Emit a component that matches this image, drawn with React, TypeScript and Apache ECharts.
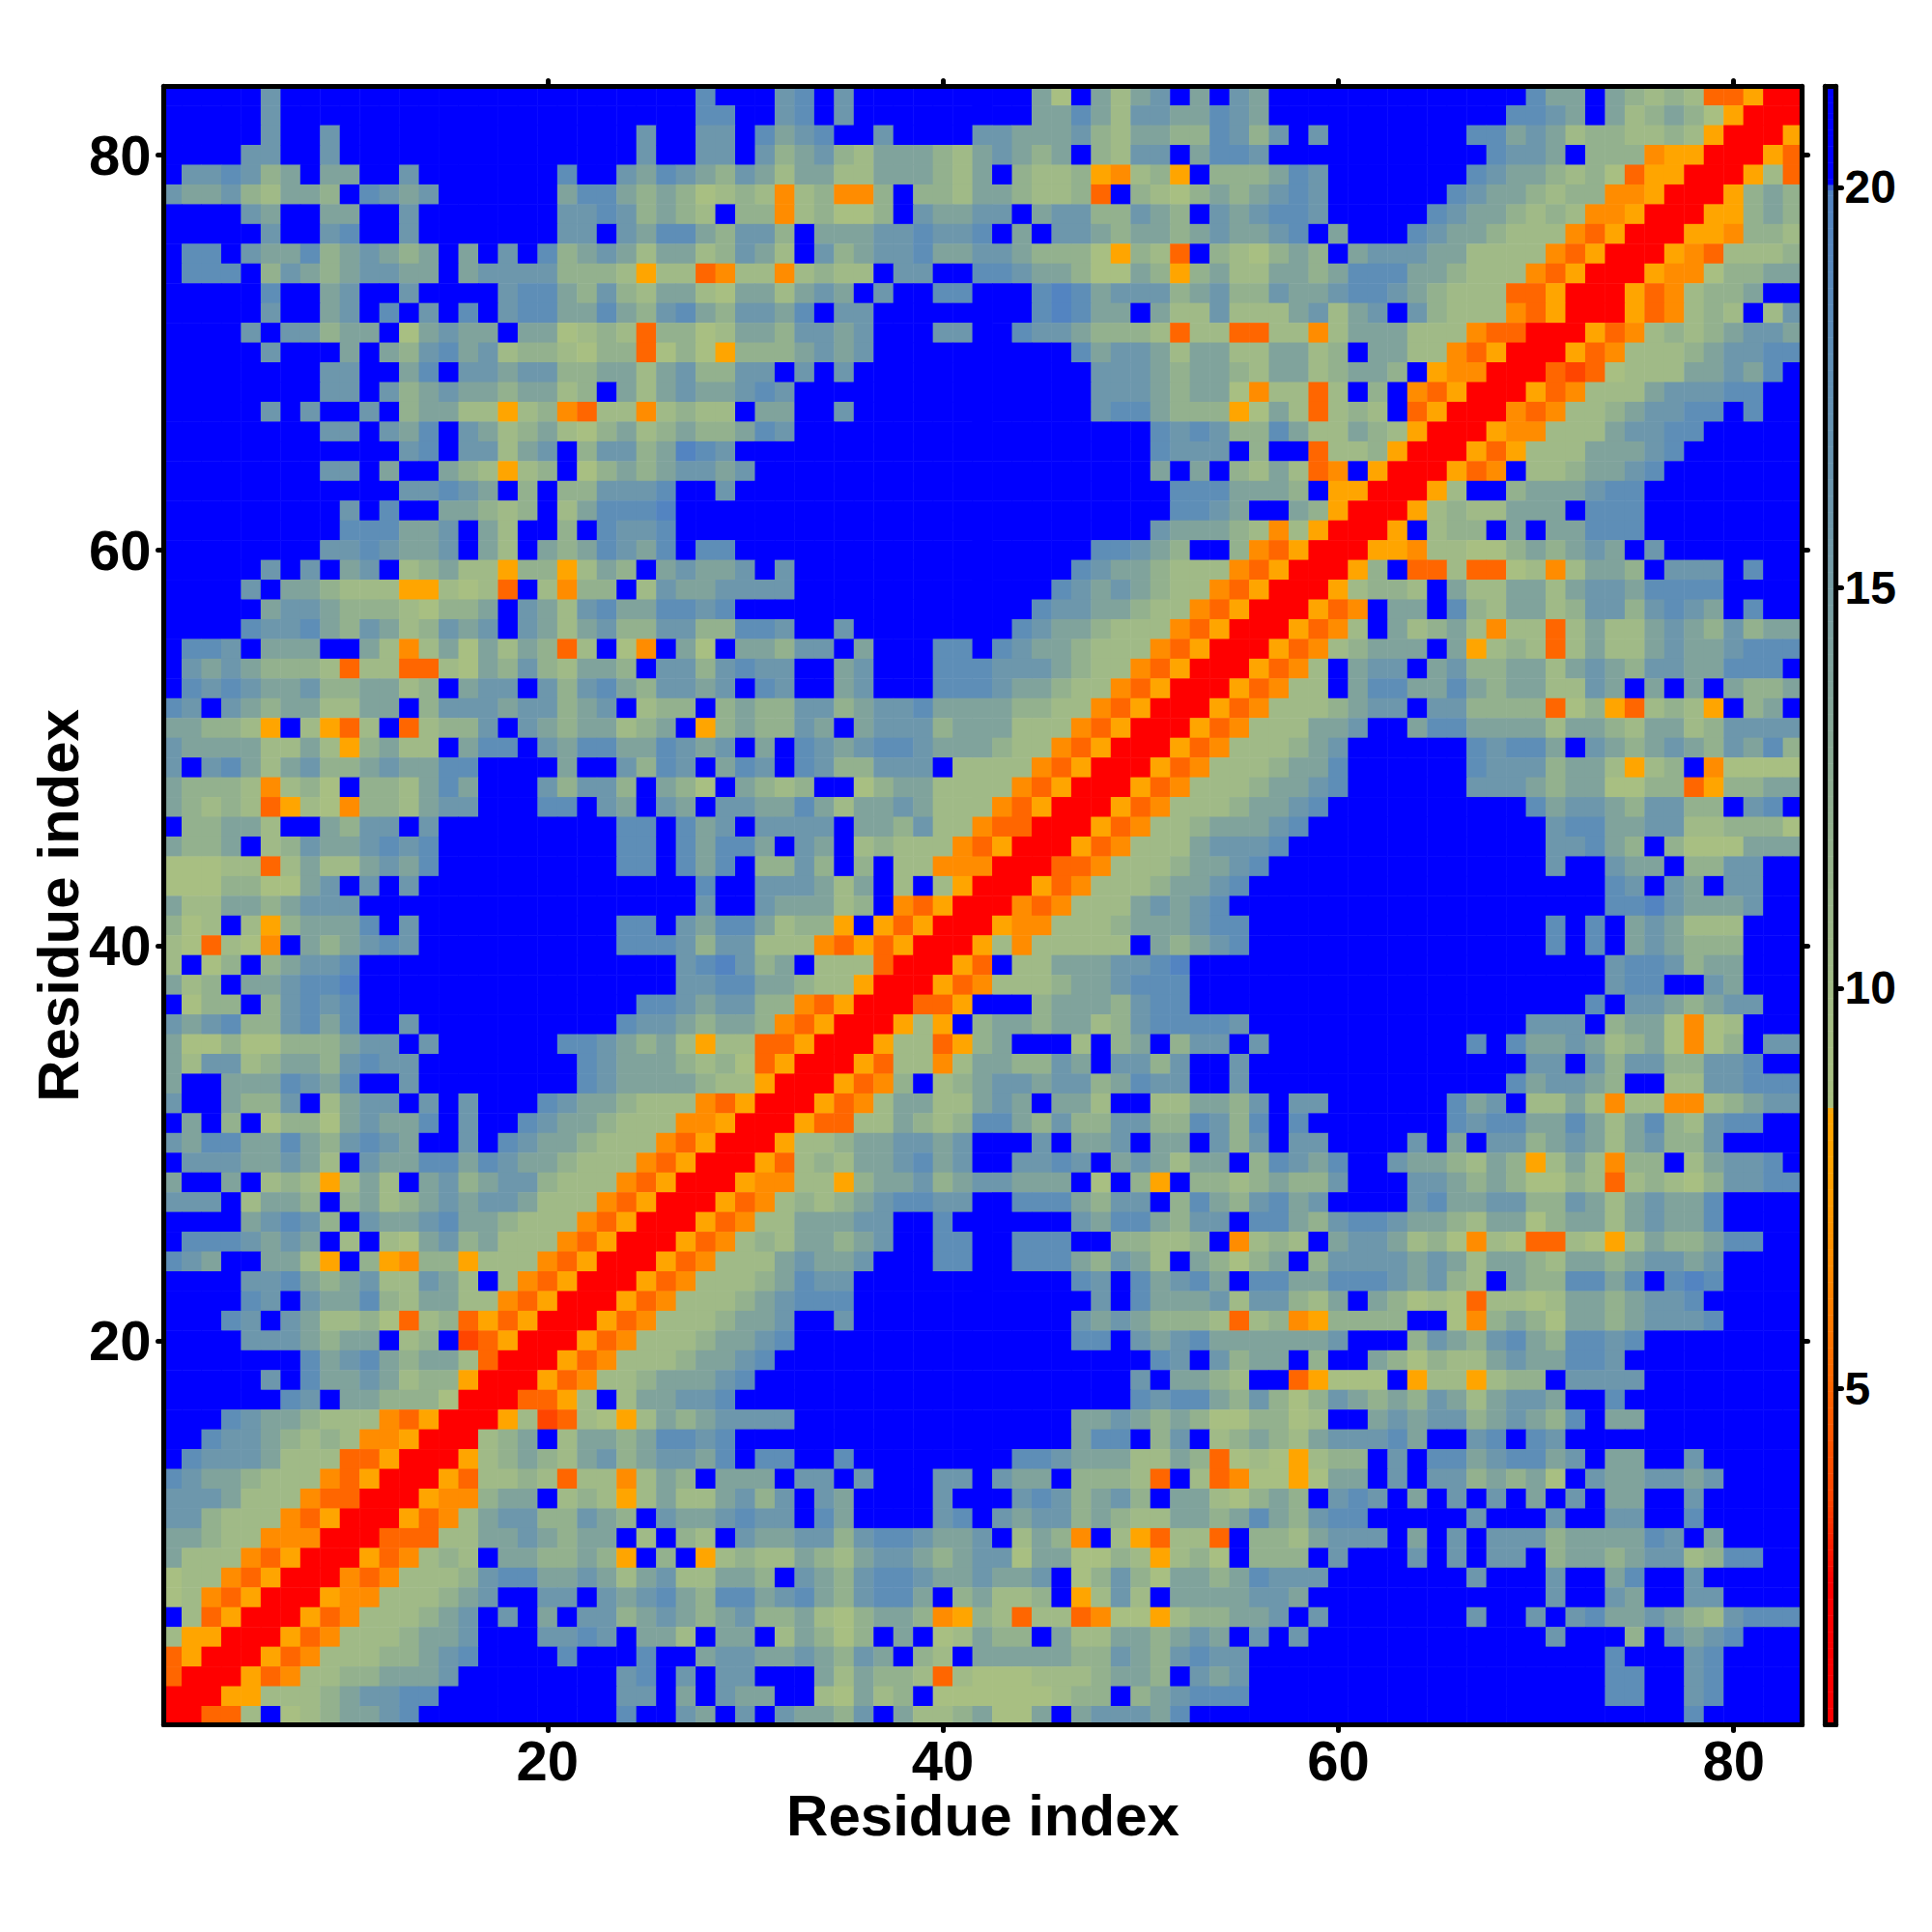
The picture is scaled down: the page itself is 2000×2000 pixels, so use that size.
import React, { useEffect, useRef } from "react";
import * as echarts from "echarts";

// Residue-by-residue matrix, top row first (y = 83 down to 1). Each token is [count]level.
const rowsTopDown: string[] = [
  "5. e 21. | f 3. e f . e 9. d a . d b d e . d . e | d 13. f d d . d c b c b O O Y R R",
  "5. e 21. | f f 2. e f . e 9. d d f d b e e d d f e | d 12. f f e d . d b c d c a Y R R R",
  "5. e 2. e 15. e 2. | e e . f d e f 2. e 4. e e d d d e c b d d c c f e | c e . e 7. f f d e d b c c b b c b Y R R R Y",
  "4. e e 2. e 15. e 2. | e e . e c d e c b d d d c b d e d c d . c b e e . d f f | e 11. f e e d . c c c M Y Y R R R Y O",
  ". e e f e c d . d d 2. e 7. f 2. e d f e | d c e d b d d b b d d d c b d . c b b c Y M b c Y . c c | c d f e 7. f e d d c b c a O Y Y R R R Y b O",
  "e d d e c b d d c . f e d e 6. d f f d c d c | a b c b M b c M M c . c c b d d c b b c O . c b a c d c | d e f e 6. f e d d c b c c M M Y R R R Y c d c",
  "4. e d 2. d d 2. e 7. e e f e c d c | b . c c M b c a a c . e d d e e . d e e c c e d c . e d | e f f e 5. f e d d c b c b M M Y R R R Y Y c d c",
  "5. e 2. e f 2. e 7. e e . e d f f | d c e e c . d d d e e f e e f . d . e e d c d d c d e d | d e f . d 3. f e d d c b b b M O Y R R R Y Y M c c b",
  ". f f . e d d f c d e d c d . d . e . f c d e d b d d | b c e d b . e c d e e f d d e e d c c c a Y c b O . c b | a c d c . d e e e d d b b b b M O Y R R R Y M O b b b c",
  ". f f f . c e d c d e e d d . d e e e e c c c b Y b b | O M b b M b c b b . e e 2. f f e d d c a a d c Y c d b | b d d c d f f f d d c b b b M O Y R R R Y M M a c c d d",
  "5. f 2. d e 2. e 4. e f f d c e c b d d | b a d d b d e d . e 2. f f 3. f g f d e e e c d e c | c e d d e f f e d c b b b O O Y R R R Y O M b c c d 2.",
  "5. e 2. d e . f . e . f . e f f d d f d c e f | d c e e d f . e e 8. f g f d d . d b b e b b | b d e b d e . e c b b b M O Y R R R Y O M b c b . b e d",
  "4. e . e e c d d . a d e d d . d d a b c b O c c | a b d d c e e d e 3. e e 2. f e e d c c c b O b b O | O b b M b d d d b b b M O O R R R Y O M b c b c d e e d",
  "5. e 3. d . d c e f d e b c c b a c c O a c | a Y c c c d e d e 10. f d e e d b d d b | b d d b c . d d b b M O Y R R R Y O M b b b c d e e f f",
  "8. e e 2. d f . e e d e e c c d d b d e | c c e e . e . e 12. e e e d c d d c | b d d b c d d c . Y M M R R R O H O a b b b d d e d f .",
  "8. e e . e c d e d d c d d b c . d b d e | d d e f e 15. e e e d c d d a | M b b O b . c . M O Y R R R Y O M b b b d e e e f f 2.",
  "5. e . e 2. e . c d d b b Y b c M O b b M b c | b b . d d 2. e 12. e f f d c c c Y | a d b O b c b . O Y R R R M O M b b c d e e f f . f 2.",
  "8. e e . e d f . e d b c d b a c d b c d | c c d f e 18. f e f e c | c f d b b d c b Y R R R Y M M b b b d e e f f 5.",
  "12. e f . e e b d e . c e e c d g | f e 21. f e e e . | c 2. O b b c Y R R R Y O Y b b b d d d e f 6.",
  "8. e e . d 2. d c b Y b c . a c d c d e | e d e 20. d . d . c | b d b O M . Y R R R Y O M . b b c d d e f 7.",
  "12. e e f e d . c . c c e e e f . | . e 22. f f f d | d d c . Y Y R R R Y b 2. c d d d e f f 8.",
  "9. e . f 2. d d c b c . b d f f f g . | 24. f f e d | 2. d c Y R R R Y b c b b d d d . f f f 8.",
  "9. f f f d d e . d b 2. c . f e e f . | 23. e d d d c | b M b Y R R R Y . b c c . d . d d f f f 8.",
  "8. e e f e d d e . d b . d c d f e d f . | f f 18. f f e d c 2. c | M O Y R R R Y Y M b b a a c d c d e d . e 7.",
  "5. e . e . d e . b c d b b Y c c Y b d c . d e | d d e . e 14. f e d d c b b b M | O Y R R R Y c . O O b O O a b M b d d c . e e e . f 2.",
  "4. e . d d c b b b Y Y b a b O . b M c c . b e d | d e e e e 13. f e d e d c b b M O | Y R R R Y b c c b . d b b d d b d e e d f f f f 4.",
  "5. d e e d c c c b a c c d . e d b e f d d f f | e f 15. f e e d d c b b M O Y | R R R Y O M . d d . f c b d d b c e e c e f e d . f 2.",
  "4. f e e f d c e d b c e d e . e d b d e c c e e | c c f f e 2. e 8. f e d d c b b b M O Y R | R R Y O M b . d b c d b M b b O b d b b d e d c e c d d",
  ". f f e . d d d 2. d b M b d a d b d c O b . a M . d | a . d d c e e . d 3. f f . f e d d c b b b M O Y R R | R Y O M b c d d d . d Y b c b O b d b b d e d d e f f f",
  ". e d e d c c c b O b b O O b a d c e c b d d c . e e | c e f e e 2. d e 3. f f f e e e d c b b M O Y R R R | Y O M b . d e e . d e c c d d b d e d c e e d d f f f .",
  ". f e f e d d e c c d d b c . d e e . e c e f d c e e | d e . f e 2. d e 3. f f f e d d c b b M O Y R R R Y | O M b b . d f f d d f d c d d b b e d . d . d . d c c d",
  "f e . e d c d d b b d d . c e e e d e e c d e . b c c | . c d c c e e c d e e f d d d d c c b b M O Y R R R Y O | M b b b c d e e . e e c c c c O a c Y O b c b Y . c d .",
  "d d c c b Y . b Y O b . O b c c e . e d c d d b c d . | Y c d c c e d . d e e e c d d d b b b M O Y R R R Y O M | b b b d d e 2. d f f d d d d b d d c b d d b c e e e e",
  "e d d d d b b d b Y c d b b . d f f . e d f f d d f e | d e . d . f e d e f f e d d d c b b M O Y R R R Y O M b | b b c d e 6. f e f f d . e d c d e d c e d f c",
  "e . e f d b d e c c d e d d f f 4. d 2. e c f e | . d f e . f e c c e e e . b b b b M O Y R R R Y O M b b | b c d d f 6. f e e e c d d b Y b c . M a a a a",
  "d c c c b M b c a . c c b d f d 3. e c e e c . d c | a . d c b c 2. a c d d b b b b M O Y R R R Y O M b b b | c d d e f 6. e e e d c d d a a c c O Y c c d d",
  "d c b c b O Y b a M c c b d e e 3. f f . e d . e d | . e e d d f d b d d e d b b b M O Y R R R Y O M b b b c | d d e f 10. f d e e d c e e c c . e f .",
  ". c c d d b 2. d c e e . e 9. f f . f | d e . e e e e . d d c e b b M O O R R R Y O M b b c d d | d e f 12. e f f d d e e b b c c c a",
  "d c c d . b c e d d e f e f 9. f f . f | d f f d . e d . b c b b b M O Y R R R Y O M b b b d e e | e f 13. e e f d c . c a a a d d d",
  "a a a b b O b d b b d e d f 9. f f . f | d f . c c e c . c . b b M M M R R R O O M b b b c d d e | f 14. e 2. e d d . c c e e 2.",
  "a a a c c a a d e . e . e 14. | f 2. e e e d b d . b . b Y R R R Y O M b b b c d d e f | 18. f e . e d . e e 2.",
  "d b b d d c d e e e 17. | e 2. e d d d b c . M O Y R R R M O M b b b d e d e f . | 18. f f g e d d d e 2.",
  "c a b . b Y c d d d f . e 10. f f . e | d f f d b c c Y . Y O Y R R R Y M M b b b c d d d e f f | 15. f . f . d e d b b b 3.",
  "b a O b a M . d c d e f e 10. f f f e | c e e b b b M O Y O Y R R R Y b M b b b b b . d c d e f | 15. f . f . d e d c c c 3.",
  "b . a c . c d e e f 16. e | f g e c d . b b b O R R R Y O . b b d d d e e f g 3. | 18. e f f e c d d 3.",
  "d b c . d d e f f g 16. e | e f f d d c b b Y R R R Y O M b b b c d d e f f f 3. | 18. e f f 2. e d 3.",
  ". a c c . c e f e f 14. f f e | d e e c c M O Y R R R O O Y 3. c d d d c e f f 3. | 17. f . e e d c d e e 2.",
  "e d e f c c e f d f 2. e 10. f e e d | c d d c M O Y R R R Y b Y . c d d c d d b c e f f f f e | 14. e e e . c d d a M a b 3.",
  "d a a c a a c c c d e e . e 6. f f e d c d b | Y b b O O Y R R R Y b b O Y c d 3. b . c d . c e e . | e 10. f . f d d e d b c d a M a c . e e",
  "d b e e b c d d c e f e e 8. f e d d d c | b c a O Y R R R Y O b b M b d d c c e d . e e c e 2. e | 14. e e . e c e e c c e e f 2.",
  "d 2. d d d f e d f 2. e 8. f e d d d d | c b b Y R R R Y O M c . b c d e e d e e c d f e e 2. e | 13. f d e e d c 2. b b e e f f f",
  "e 2. d c c e . b d e e . e . e 3. f e d d c b b b | M O Y R R R Y O M b d d b b d e d . d d b 2. b b d d c | e . e e 6. f d e . b b d b M b b M M b c d e e",
  ". d . c . a c c a d e d d f . e 2. f e d d c b b b M | M Y R R R Y O O b b d c b c f f d c e c c e e c c f e c | f . f 7. f e f f d d f d b d f c b e f f 2.",
  "e d f f d d f d c e f e d 2. e . f e d d c b b b M O | Y R R R Y b b c d d e e d e 3. e . d d e . d d . e c | e . e e 4. e . d . e e c d e d b d e c c e 4.",
  ". e e e d d e d b . e d d f f d f e d d c b b b M O Y | R R R Y O b c b d d e f d e 2. e e f e . d e d b d d . | c f e d f 2. e d d c b d c Y b d b M c c . b d e e f .",
  "d 2. d . b c b Y b d b . d e c d e e c b b b M O Y R | R R Y M M b b Y c d d e c d e e d d d . a . c Y . c c b | c d c c e 3. e e d c d c a a c b O b c b a c e e f f",
  "e e e . b d d c . c d b c d e d e e d b b b M O Y R R | R Y O M b c b c d e f f e e 2. f f f d c e e . c f d c | e f d e 4. e f d d e e c c e d b d e d d f 4.",
  "4. d e f e c . e d d e f d d c b b b M O Y R R R | Y O M b b d d d e e 2. f 6. e d f f d c e e . | f f d c e f f e d d c b d d a c d d b d e d d f 4.",
  ". f f f e d e d . b . b a d e c d b b b M O Y R R R Y | O M b c b d d c d e 2. f f 2. f f f 2. c c b b c . M | b c b . d e e d b c a M b a O O b a Y b d c c d f f 2.",
  "f e d 2. d d b Y . c Y M c c Y b b b M O Y R R R Y O | M b b b d e d d e 3. f f 2. f f f d c e d b . d c a | c d . c e e e e d e d b d d c b d d c d e e d e 4.",
  "4. e e f d c d e b b e d b . b M O Y R R R Y O M | b b b c d f e e 11. f e . f d e f d . | f f d d f f f e d e c b . d c c f f d f . f g f 4.",
  "4. f e . e d d f c b d d b b M O Y R R R Y O M b | b b c d e f f f 12. e . f d d d e b | e e c b d . d c a b a O b b a b d d c d e e f 5.",
  "3. f e . e d b b c a O b c O Y O Y R R R Y O M b b | b c d d e 2. e 11. e d e d c c c b O | b c M Y c c c c 2. a M c d c a d d c d e e e f 4.",
  "4. e e e d c d d . b c . H O Y R R R Y O M b b b | c d d e f 14. f f . e d e f d d | d d d d e 3. c e d c e f d c f f e f 8.",
  "7. f d e f d c d d b O R R R Y O M b b b c | d d e f 19. f e . e c | d d . c 2. d c a c b b d e d d f f e 9.",
  "5. e . f d d e d b c c Y R R R Y O M b b c d d | d e f 19. e . d d c b | 2. O Y a a a . Y b b Y b c c . e e e e 8.",
  "6. f e . d d c c c a R R R O O Y b . b d d e | e f 20. f e f f d c | e c a c e d c d c e d b d e e d 2. f 9.",
  "3. f e d d c b b b M O Y R R R Y b H O b a Y b d c | d e e e e 14. d d e d c d c a a | c c a b 2. d e d e e c d e d c f . d d 8.",
  "2. f e e d c b c b M M Y R R R b c d . b d d c d f f | e f 17. d f f . c e . b c | d c b d e e e f d 2. e f . f e 12.",
  ". f e e e d b b b O O Y R R R Y b c d c b d e c d e e | d f . f f 2. f 8. f f e d d d b b d c O a | b a Y b c c . e . f f d e f f d e . d d 2. e 5.",
  "f e d d c b b b M O Y R R R Y O b b c b O b b M b d c | . d d d . e e . e 3. e e . e d d . c c c b O . b O M | a a Y a d d . e . e e c d c d a . e d d e e d e 4.",
  "e e e d b b b M O O R R R Y M M c d d . b c b Y b d b | b d e c e . e d 4. e 3. e f e c d e c . d d b a | c d c . e f e . d . e . e . d . e . d d 2. e 5.",
  "e e c b b b M O Y R R R Y O M b d e e c c e d c . e d | d e f e e . f d 4. e f . e d e e c d c b b d d c d | f d c e f f 5. e 3. e 2. e e 2. f 5.",
  "d d c b b M M M R R R O O O b b d d e d c d d . b . c | b . e d d e e c e f f e d d e . b d c M . b Y O b b O . | c c b d e e e . d . e . e e e c d d d d f e . d 4.",
  "d b b b M O Y R R R Y O M b c b . d d c c d c Y . c . | Y b c b b d c b d e e d c d e e a d d a a c b Y b c a . | c c c . e 3. e . e . e e . c d d c d e e b c f f 2.",
  "a b b M O Y R R R M O M b b b c e f f d d e d b d e b | b d d c . e d c e f f e d d e d d e . a c e c a d d c d | f e e e 7. e 3. e 2. d f 2. e 5.",
  "a b M O Y R R R Y M M b b b c d e 2. e e . e d e f d | c f f d e f d c e f f d . c d b b c . Y b e b . d d d d | e e d 12. e 2. e d 2. e e 4.",
  ". b O Y R R R Y O M b b b c d e . e . d . e e c d e d | c d e c c d b a c d d c M Y c b O b b O M a a Y b c c d | d e . e 7. e 2. e . e f d d e d c b e f f f",
  "b Y Y R R R Y O M b b b c d d e 3. e e f e . d d b | . d d . b d c a c . d . a b d c c . d b b d d c d e d . | e . e 12. e 3. c . e d e f 3.",
  "O Y R R R Y O M b b b c c d e f 4. f 3. f 2. | d e e d d e d c e d . c b . d d d d d c c e d c e f e e | 18. f 3. e f 4.",
  "O R R R Y O M b b c c d d d e 8. e f . e | . e e 3. d b d c c b O b a a a b b b c d d c . e d e | 18. f f 2. e f 4.",
  "R R R Y Y b b b c d e e f f 9. e e . d | . e d d 2. b a d b c . a a a a a a b c c . c d e f f f | 18. f f 2. e f 4.",
  "R R O O b . a b c d d e f 10. f 2. e | d . e . e d d c e . d b b c d a a d . d e e e d f 3. | 22. f 5.",
];

const levelValues: Record<string, number> = {
  R: 1.5, H: 3.6, O: 5, M: 6.5, Y: 7.8,
  a: 9, b: 10.3, c: 12, d: 14, e: 16, f: 18, g: 19.8, ".": 21,
};

const tickLabels = [20, 40, 60, 80];
const barTickLabels = [5, 10, 15, 20];
const colorStops: [number, string][] = [
  [0.8, "#FF0000"], [2.6, "#FF0000"], [3.6, "#FF4500"], [5, "#FF6600"], [6.5, "#FF8C00"],
  [7.8, "#FFA500"], [8.47, "#FFA500"], [8.5, "#A9C081"], [9, "#A8BF82"], [10.3, "#A0BA87"],
  [12, "#93B18E"], [14, "#80A39C"], [16, "#6D97AC"], [18, "#5E8EB7"], [20, "#5283C2"],
  [20.02, "#0000FF"], [21.26, "#0000FF"],
];

const VMIN = 0.8;
const VMAX = 21.26;
const FONT = "Liberation Sans";

function decodeRow(row: string): number[] {
  const out: number[] = [];
  const re = /(\d*)([a-zA-Z.])/g;
  const clean = row.replace(/[\s|]+/g, "");
  let m: RegExpExecArray | null;
  while ((m = re.exec(clean))) {
    const n = m[1] ? parseInt(m[1], 10) : 1;
    for (let i = 0; i < n; i++) out.push(levelValues[m[2]]);
  }
  while (out.length < 83) out.push(21);
  return out.slice(0, 83);
}

function hex(c: string): number[] {
  return [1, 3, 5].map((i) => parseInt(c.slice(i, i + 2), 16));
}

function colorAt(v: number): string {
  for (let i = 1; i < colorStops.length; i++) {
    if (v <= colorStops[i][0]) {
      const [a, ca] = colorStops[i - 1];
      const [b, cb] = colorStops[i];
      const t = (v - a) / (b - a);
      const x = hex(ca);
      const y = hex(cb);
      return `rgb(${x.map((q, k) => Math.round(q + (y[k] - q) * t)).join(",")})`;
    }
  }
  return colorStops[colorStops.length - 1][1];
}

export default function App() {
  const ref = useRef<HTMLDivElement>(null);
  useEffect(() => {
    const chart = echarts.init(ref.current!, undefined, { renderer: "svg" });
    const cells: number[][] = [];
    rowsTopDown.forEach((row, r) => {
      decodeRow(row).forEach((v, c) => cells.push([c, 82 - r, v]));
    });
    const idx = Array.from({ length: 83 }, (_, i) => String(i + 1));
    const barSteps = 300;
    const barCats = Array.from({ length: barSteps }, (_, i) => String(i));
    const barCells = barCats.map((_, i) => [0, i, VMIN + ((i + 0.5) / barSteps) * (VMAX - VMIN)]);
    const palette = Array.from({ length: 820 }, (_, i) => colorAt(VMIN + (i / 819) * (VMAX - VMIN)));

    const frameLine = { show: true, onZero: false, lineStyle: { color: "#000", width: 5.2, cap: "round" as const } };
    const ticks = (vals: number[]) => ({
      show: true, length: 6, customValues: vals,
      lineStyle: { color: "#000", width: 5, cap: "round" as const },
    });
    const labelStyle = { fontFamily: FONT, fontWeight: "bold" as const, color: "#000" };
    const nameStyle = { fontFamily: FONT, fontWeight: "bold" as const, fontSize: 60, color: "#000" };
    const xLim = { type: "value" as const, gridIndex: 1, min: 0.585, max: 83.46, z: 5, splitLine: { show: false }, axisLine: frameLine };
    const yLim = { type: "value" as const, gridIndex: 1, min: 0.56, max: 83.48, z: 5, splitLine: { show: false }, axisLine: frameLine };
    const hidden = { show: false };
    const barVal = { type: "value" as const, gridIndex: 3, z: 5, splitLine: { show: false }, axisLine: frameLine };

    chart.setOption({
      animation: false,
      backgroundColor: "#fff",
      grid: [
        { left: 167.8, top: 88.9, width: 1698.5, height: 1697.8 },
        { left: 169.5, top: 89.4, width: 1696, height: 1696.1 },
        { left: 1889.5, top: 89.4, width: 11, height: 1696.1 },
        { left: 1889.5, top: 89.4, width: 11, height: 1696.1 },
      ],
      xAxis: [
        { type: "category", gridIndex: 0, data: idx, ...hidden },
        {
          ...xLim, position: "bottom", axisTick: ticks(tickLabels),
          axisLabel: { ...labelStyle, fontSize: 58, margin: 8, customValues: tickLabels },
          name: "Residue index", nameLocation: "middle", nameGap: 63.5, nameMoveOverlap: false, nameTextStyle: nameStyle,
        },
        { ...xLim, position: "top", axisTick: ticks(tickLabels), axisLabel: { show: false } },
        { type: "category", gridIndex: 2, data: ["0"], ...hidden },
        { ...barVal, min: 0, max: 1, position: "bottom", axisTick: hidden, axisLabel: hidden },
        { ...barVal, min: 0, max: 1, position: "top", axisTick: hidden, axisLabel: hidden },
      ],
      yAxis: [
        { type: "category", gridIndex: 0, data: idx, ...hidden },
        {
          ...yLim, position: "left", axisTick: ticks(tickLabels),
          axisLabel: { ...labelStyle, fontSize: 58, margin: 13, customValues: tickLabels },
          name: "Residue index", nameLocation: "middle", nameGap: 79.5, nameMoveOverlap: false, nameTextStyle: nameStyle,
        },
        { ...yLim, position: "right", axisTick: ticks(tickLabels), axisLabel: { show: false } },
        { type: "category", gridIndex: 2, data: barCats, ...hidden },
        { ...barVal, min: VMIN, max: VMAX, position: "left", axisTick: hidden, axisLabel: hidden },
        {
          ...barVal, min: VMIN, max: VMAX, position: "right", axisTick: ticks(barTickLabels),
          axisLabel: { ...labelStyle, fontSize: 48, margin: 9, customValues: barTickLabels },
        },
      ],
      visualMap: {
        type: "continuous", show: false, min: VMIN, max: VMAX, dimension: 2,
        seriesIndex: [0, 1], inRange: { color: palette },
      },
      series: [
        { type: "heatmap", xAxisIndex: 0, yAxisIndex: 0, data: cells, z: 2, silent: true, progressive: 0 },
        { type: "heatmap", xAxisIndex: 3, yAxisIndex: 3, data: barCells, z: 2, silent: true, progressive: 0 },
      ],
    });
    return () => chart.dispose();
  }, []);
  return <div ref={ref} style={{ position: "absolute", left: 0, top: 0, width: 2000, height: 2000 }} />;
}
